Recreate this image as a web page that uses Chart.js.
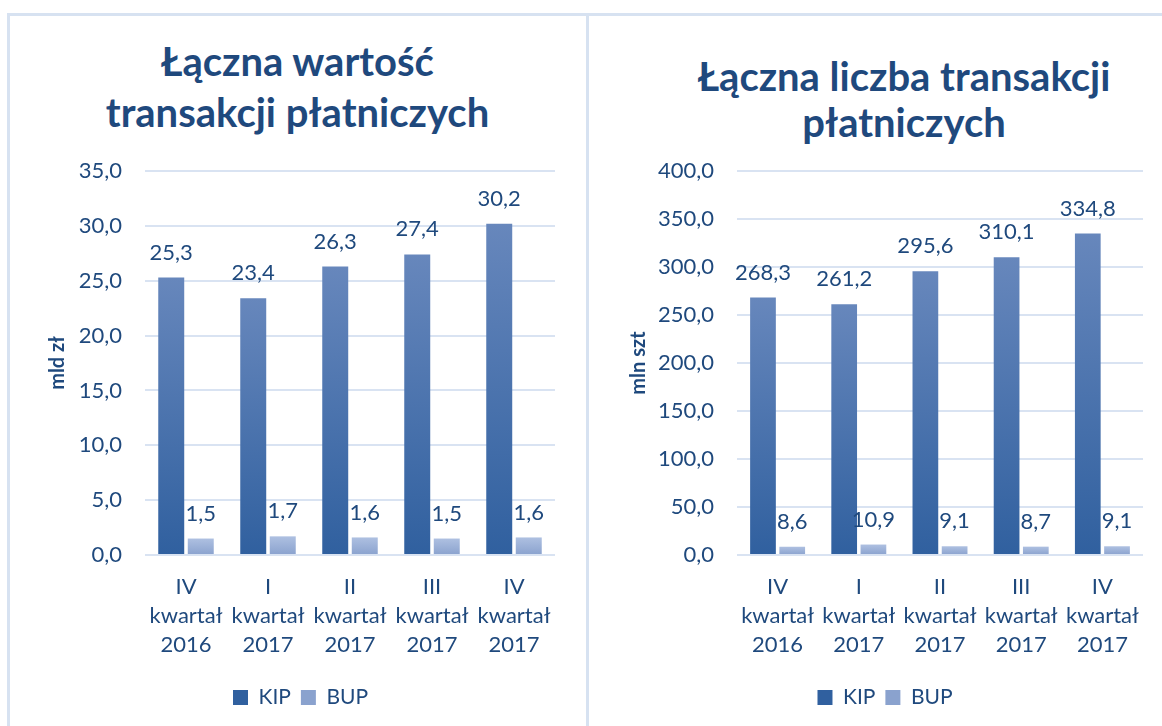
<!DOCTYPE html>
<html lang="pl">
<head>
<meta charset="utf-8">
<script src="https://cdn.jsdelivr.net/npm/chart.js@4.4.1/dist/chart.umd.min.js"></script>
<style>
  body { margin: 0; background: #fff; width: 1162px; height: 726px; overflow: hidden; position: relative; font-family: Lato, sans-serif; }
  .panel { position: absolute; top: 13px; height: 740px; border-top: 3px solid #D7E2F1; box-sizing: border-box; }
  #leftPanel { left: 7px; width: 582px; border-left: 3px solid #D7E2F1; border-right: 3px solid #D7E2F1; }
  #rightPanel { left: 589px; width: 600px; }
  .title { position: absolute; text-align: center; color: #1F497D; font: bold 40px Lato, sans-serif; }
  #leftTitle { left: 10px; width: 575px; top: 36px; line-height: 51px; }
  #rightTitle { left: 646px; width: 516px; top: 53px; line-height: 46px; }
  .box { position: absolute; top: 16px; height: 710px; }
  #leftBox { left: 10px; width: 575px; }
  #rightBox { left: 590px; width: 572px; }
</style>
</head>
<body>
<div class="panel" id="leftPanel"></div>
<div class="panel" id="rightPanel"></div>
<div class="title" id="leftTitle">Łączna wartość<br>transakcji płatniczych</div>
<div class="title" id="rightTitle">Łączna liczba transakcji<br>płatniczych</div>
<div class="box" id="leftBox"><canvas id="valueChart"></canvas></div>
<div class="box" id="rightBox"><canvas id="countChart"></canvas></div>
<script>
const quarters = [
    ['IV', 'kwartał', '2016'],
    ['I', 'kwartał', '2017'],
    ['II', 'kwartał', '2017'],
    ['III', 'kwartał', '2017'],
    ['IV', 'kwartał', '2017']
];
const seriesNames = ['KIP', 'BUP'];

// wartość transakcji, mld zł
const kipValue = [25.3, 23.4, 26.3, 27.4, 30.2];
const bupValue = [1.5, 1.7, 1.6, 1.5, 1.6];
const valueAxis = { title: 'mld zł', max: 35, step: 5 };

// liczba transakcji, mln szt
const kipCount = [268.3, 261.2, 295.6, 310.1, 334.8];
const bupCount = [8.6, 10.9, 9.1, 8.7, 9.1];
const countAxis = { title: 'mln szt', max: 400, step: 50 };

const textColor = '#1F497D';
const gridColor = '#D9E3F2';
const fontName = 'Lato';

const fmt = v => v.toFixed(1).replace('.', ',');

// gradient per bar: lighter on top, darker at base
function barFill(top, bottom) {
    return (ctx) => {
        const chart = ctx.chart;
        if (ctx.type !== 'data' || !chart.chartArea) return bottom;
        const y = chart.scales.y;
        const yTop = y.getPixelForValue(ctx.raw);
        const yBase = y.getPixelForValue(0);
        const g = chart.ctx.createLinearGradient(0, yTop, 0, yBase);
        g.addColorStop(0, top);
        g.addColorStop(1, bottom);
        return g;
    };
}

const valueLabels = {
    id: 'valueLabels',
    afterDatasetsDraw(chart) {
        const c = chart.ctx;
        c.save();
        c.font = '22px ' + fontName;
        c.fillStyle = textColor;
        c.textAlign = 'center';
        c.textBaseline = 'middle';
        chart.data.datasets.forEach((ds, i) => {
            chart.getDatasetMeta(i).data.forEach((bar, j) => {
                c.fillText(fmt(ds.data[j]), bar.x, bar.y - 25);
            });
        });
        c.restore();
    }
};

function makeConfig(kip, bup, axis, padLeft, yWidth, padRight) {
    return {
        type: 'bar',
        data: {
            labels: quarters,
            datasets: [
                {
                    label: seriesNames[0],
                    data: kip,
                    backgroundColor: barFill('#6787BC', '#30609F'),
                    categoryPercentage: 0.72,
                    barPercentage: 0.88
                },
                {
                    label: seriesNames[1],
                    data: bup,
                    backgroundColor: barFill('#AEC0E1', '#8AA2CE'),
                    categoryPercentage: 0.72,
                    barPercentage: 0.88
                }
            ]
        },
        options: {
            responsive: true,
            maintainAspectRatio: false,
            animation: false,
            layout: { padding: { top: 155, right: padRight, bottom: 8, left: padLeft } },
            plugins: {
                title: { display: false },
                tooltip: { enabled: false },
                legend: {
                    position: 'bottom',
                    labels: {
                        color: textColor,
                        boxWidth: 15,
                        boxHeight: 15,
                        padding: 10,
                        font: { family: fontName, size: 21 }
                    }
                }
            },
            scales: {
                x: {
                    grid: { display: false },
                    border: { display: false },
                    afterFit: s => { s.height = 122; },
                    ticks: {
                        color: textColor,
                        padding: 9,
                        maxRotation: 0,
                        font: { family: fontName, size: 22, lineHeight: 1.32 }
                    }
                },
                y: {
                    min: 0,
                    max: axis.max,
                    afterFit: s => { s.width = yWidth; },
                    border: { display: false },
                    grid: { color: gridColor, lineWidth: 2, drawTicks: false },
                    ticks: {
                        stepSize: axis.step,
                        color: textColor,
                        padding: 23,
                        font: { family: fontName, size: 22 },
                        callback: v => fmt(v)
                    },
                    title: {
                        display: true,
                        text: axis.title,
                        color: textColor,
                        padding: 0,
                        font: { family: fontName, size: 20, weight: 'bold', lineHeight: 1.2 }
                    }
                }
            }
        },
        plugins: [valueLabels]
    };
}

new Chart(document.getElementById('valueChart'), makeConfig(kipValue, bupValue, valueAxis, 36, 99, 30));
new Chart(document.getElementById('countChart'), makeConfig(kipCount, bupCount, countAxis, 37, 110, 19));
</script>
</body>
</html>
